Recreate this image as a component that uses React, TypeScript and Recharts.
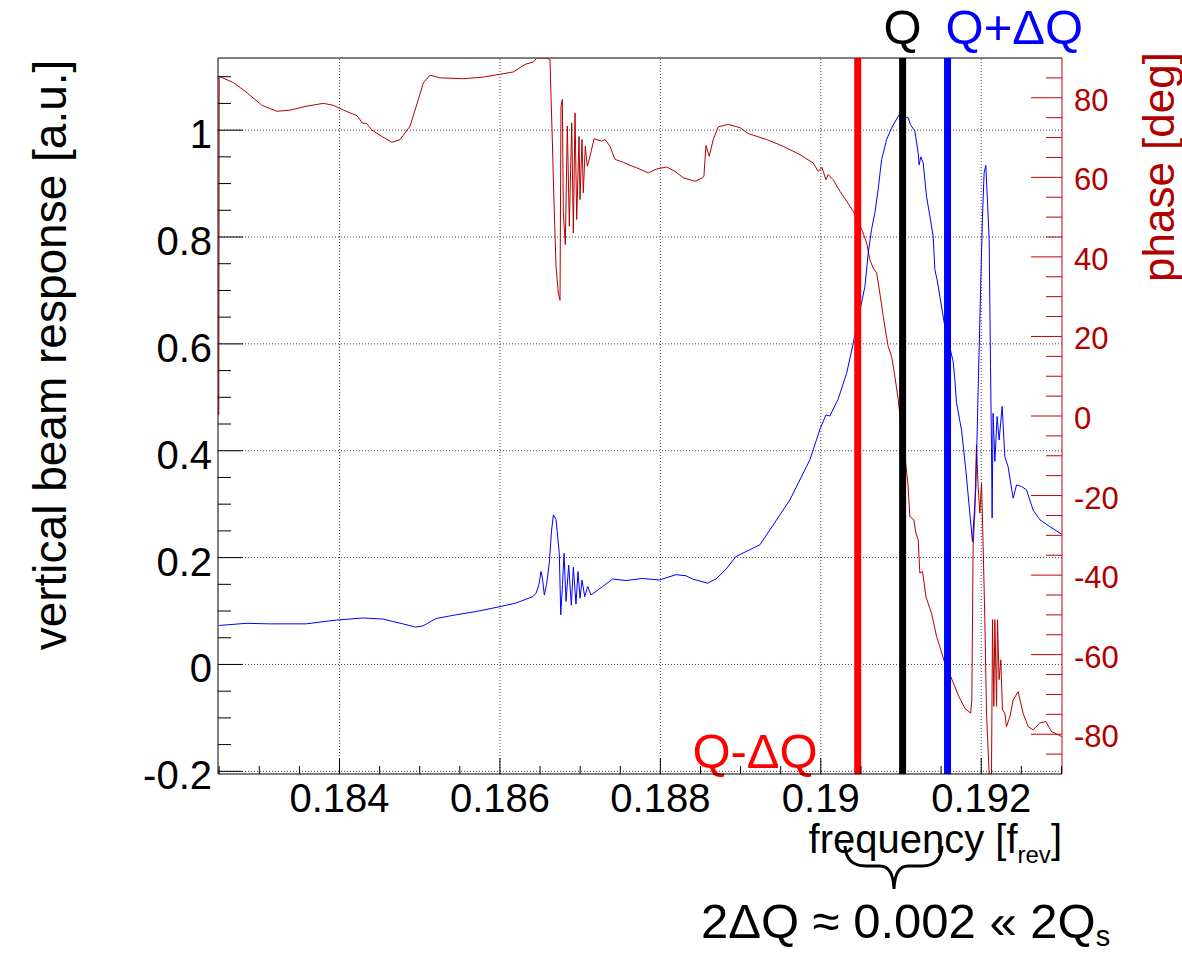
import React from 'react';
import { LineChart, Line, XAxis, YAxis, ReferenceLine } from 'recharts';

const FONT = '"Liberation Sans", Arial, Helvetica, sans-serif';

// ---- axis ranges ----
const X_MIN = 0.182485;
const X_MAX = 0.193007;
const AMP_MIN = -0.205;
const AMP_MAX = 1.135;
const PHASE_MIN = -90;
const PHASE_MAX = 90;

// ---- tune markers ----
const Q_MINUS = 0.19046;
const Q_CENTER = 0.19102;
const Q_PLUS = 0.19158;

// ---- ticks ----
const X_TICKS = [0.1825, 0.183, 0.1835, 0.184, 0.1845, 0.185, 0.1855, 0.186, 0.1865, 0.187, 0.1875, 0.188, 0.1885, 0.189, 0.1895, 0.19, 0.1905, 0.191, 0.1915, 0.192, 0.1925, 0.193];
const X_LABEL_VALUES = [0.184, 0.186, 0.188, 0.19, 0.192];
const X_LABELS = ['0.184', '0.186', '0.188', '0.19', '0.192'];

const AMP_TICKS = [-0.2, -0.15, -0.1, -0.05, 0, 0.05, 0.1, 0.15, 0.2, 0.25, 0.3, 0.35, 0.4, 0.45, 0.5, 0.55, 0.6, 0.65, 0.7, 0.75, 0.8, 0.85, 0.9, 0.95, 1, 1.05, 1.1];
const AMP_LABEL_VALUES = [-0.2, 0, 0.2, 0.4, 0.6, 0.8, 1];
const AMP_LABELS = ['-0.2', '0', '0.2', '0.4', '0.6', '0.8', '1'];

const PHASE_TICKS = [-85, -80, -75, -70, -65, -60, -55, -50, -45, -40, -35, -30, -25, -20, -15, -10, -5, 0, 5, 10, 15, 20, 25, 30, 35, 40, 45, 50, 55, 60, 65, 70, 75, 80, 85];
const PHASE_LABEL_VALUES = [-80, -60, -40, -20, 0, 20, 40, 60, 80];
const PHASE_LABELS = ['-80', '-60', '-40', '-20', '0', '20', '40', '60', '80'];

// ---- amplitude (blue) ----
const AMP_F = [
  0.18250, 0.182836, 0.183126, 0.183584, 0.183958, 0.184290, 0.184540, 0.184789, 0.184946, 0.185038,
  0.185204, 0.185453, 0.185702, 0.185993, 0.186201, 0.186409, 0.186450, 0.186487, 0.186512, 0.186531,
  0.186553, 0.186581, 0.186616, 0.186643, 0.186666, 0.186699, 0.186740, 0.186758, 0.186780, 0.186799,
  0.186824, 0.186857, 0.186890, 0.186915, 0.186948, 0.186973, 0.186998, 0.187023, 0.187057, 0.187094,
  0.187135, 0.187281, 0.187406, 0.187571, 0.187779, 0.187986, 0.188194, 0.188319, 0.188402, 0.188589,
  0.188693, 0.188817, 0.188942, 0.189241, 0.189615, 0.189864, 0.189989, 0.190064, 0.190113, 0.190217,
  0.190322, 0.190404, 0.190516, 0.190550, 0.190591, 0.190633, 0.190674, 0.190715, 0.190758, 0.190820,
  0.190882, 0.190977, 0.191089, 0.191119, 0.191173, 0.191214, 0.191226, 0.191247, 0.191276, 0.191318,
  0.191360, 0.191401, 0.191422, 0.191450, 0.191484, 0.191546, 0.191650, 0.191671, 0.191692, 0.191754,
  0.191808, 0.191858, 0.191891, 0.191908, 0.191933, 0.191961, 0.191991, 0.192016, 0.192036, 0.192057,
  0.192079, 0.192099, 0.192116, 0.192128, 0.192136, 0.192148, 0.192170, 0.192198, 0.192223, 0.192261,
  0.192294, 0.192335, 0.192398, 0.192440, 0.192502, 0.192564, 0.192647, 0.192730, 0.192855, 0.193000,
];
const AMP_V = [
  0.073, 0.077, 0.076, 0.076, 0.083, 0.087, 0.085, 0.076, 0.070, 0.072,
  0.086, 0.093, 0.099, 0.108, 0.115, 0.127, 0.133, 0.150, 0.174, 0.160,
  0.130, 0.150, 0.190, 0.250, 0.280, 0.271, 0.208, 0.093, 0.150, 0.208,
  0.118, 0.186, 0.111, 0.182, 0.113, 0.174, 0.124, 0.158, 0.127, 0.146,
  0.130, 0.146, 0.160, 0.157, 0.161, 0.158, 0.168, 0.166, 0.160, 0.152,
  0.160, 0.178, 0.202, 0.224, 0.308, 0.383, 0.440, 0.467, 0.465, 0.497,
  0.545, 0.601, 0.683, 0.707, 0.770, 0.814, 0.845, 0.889, 0.945, 0.982,
  1.004, 1.029, 1.023, 1.010, 0.998, 0.957, 0.935, 0.950, 0.939, 0.876,
  0.839, 0.801, 0.739, 0.720, 0.689, 0.633, 0.567, 0.533, 0.490, 0.439,
  0.364, 0.283, 0.230, 0.271, 0.330, 0.510, 0.695, 0.839, 0.920, 0.934,
  0.864, 0.795, 0.558, 0.408, 0.274, 0.470, 0.380, 0.464, 0.420, 0.483,
  0.389, 0.370, 0.311, 0.336, 0.333, 0.327, 0.289, 0.271, 0.258, 0.244,
];

// ---- phase (dark red) ----
const PHASE_F = [
  0.182495, 0.18250, 0.182678, 0.182845, 0.183032, 0.183219, 0.183384, 0.183593, 0.183799, 0.183924,
  0.184049, 0.184216, 0.184257, 0.184278, 0.184340, 0.184402, 0.184527, 0.184652, 0.184755, 0.184880,
  0.184983, 0.185046, 0.185129, 0.185254, 0.185544, 0.185793, 0.186001, 0.186167, 0.186313, 0.186416,
  0.186459, 0.186583, 0.186624, 0.186637, 0.186653, 0.186666, 0.186678, 0.186699, 0.186728, 0.186749,
  0.186761, 0.186778, 0.186790, 0.186815, 0.186840, 0.186865, 0.186895, 0.186915, 0.186936, 0.186957,
  0.186986, 0.186998, 0.187023, 0.187039, 0.187064, 0.187089, 0.187123, 0.187173, 0.187269, 0.187310,
  0.187372, 0.187434, 0.187538, 0.187621, 0.187705, 0.187849, 0.187954, 0.188079, 0.188182, 0.188285,
  0.188431, 0.188527, 0.188543, 0.188568, 0.188609, 0.188659, 0.188722, 0.188846, 0.188992, 0.189095,
  0.189325, 0.189532, 0.189740, 0.189905, 0.189968, 0.190014, 0.190064, 0.190092, 0.190155, 0.190238,
  0.190322, 0.190404, 0.190521, 0.190571, 0.190612, 0.190653, 0.190696, 0.190736, 0.190778, 0.190811,
  0.190840, 0.190882, 0.190911, 0.190964, 0.190998, 0.191048, 0.191089, 0.191110, 0.191160, 0.191185,
  0.191214, 0.191235, 0.191269, 0.191310, 0.191381, 0.191443, 0.191484, 0.191546, 0.191609, 0.191671,
  0.191712, 0.191796, 0.191867, 0.191883, 0.191899, 0.191920, 0.191933, 0.191941, 0.191961, 0.191983,
  0.192004, 0.192024, 0.192045, 0.192066, 0.192099, 0.192128, 0.192141, 0.192157, 0.192170, 0.192191,
  0.192203, 0.192223, 0.192244, 0.192265, 0.192294, 0.192315, 0.192357, 0.192398, 0.192460, 0.192522,
  0.192585, 0.192647, 0.192730, 0.192805, 0.192876, 0.193000,
];
const PHASE_V = [
  0.3, 85.4, 83.8, 81.3, 78.1, 76.6, 76.9, 77.9, 78.6, 78.1,
  76.9, 75.5, 74.5, 73.7, 73.5, 71.9, 70.3, 68.8, 69.5, 72.9,
  79.6, 83.8, 85.7, 85.0, 84.8, 85.2, 85.9, 86.5, 88.4, 89.0,
  90, 90, 89.6, 80, 69.5, 59.4, 51, 37.6, 30.9, 29.1,
  77.9, 79.6, 51.1, 43.1, 72.9, 47.7, 73.7, 46, 76.2, 49.4,
  70.3, 54.4, 69.5, 56.1, 67.8, 62.8, 65.3, 69.7, 69.1, 69.5,
  67.8, 64.5, 63.8, 63.0, 62.4, 61.1, 62.1, 62.6, 61.5, 59.9,
  59.0, 59.9, 60.3, 68, 65.3, 69.5, 72.7, 73.3, 72.5, 71.0,
  69.5, 67.8, 65.7, 63.6, 61.5, 62.5, 59.4, 60.7, 59.4, 56.5,
  54, 51.5, 46.4, 43.5, 39.3, 37.2, 36, 30.9, 25.1, 20.9,
  17.5, 15, 11.6, 4.3, -2, -10, -17.7, -25.3, -26.1, -29.4,
  -31.1, -39.5, -39.1, -45.4, -49.6, -55.4, -58, -62.1, -65, -68,
  -70.1, -73.5, -74.7, -71.4, -32.8, -24.4, -12.7, -7.2, -17.7, -24.4,
  -16.9, -32.8, -51.2, -74.7, -90, -90, -51.2, -73, -51.2, -73,
  -51.2, -66.3, -61.3, -73.9, -74.7, -78.1, -75.6, -71.4, -69.3, -74.7,
  -78.1, -78.9, -77.2, -76.8, -79.3, -80.6,
];

const ampData = AMP_F.map((f, i) => ({ f, a: AMP_V[i] }));
const phaseData = PHASE_F.map((f, i) => ({ f, p: PHASE_V[i] }));

const findMajor = (list: number[], v: number) => list.findIndex((m) => Math.abs(m - v) < 1e-9);

const XTick = (p: any) => {
  const i = findMajor(X_LABEL_VALUES, p.payload.value);
  return (
    <g>
      <line x1={p.x} x2={p.x} y1={p.y} y2={p.y - (i >= 0 ? 16 : 8)} stroke="#000" strokeWidth={1} />
      {i >= 0 && (
        <text x={p.x} y={p.y + 38} textAnchor="middle" fontSize={40} fontFamily={FONT} fill="#000">
          {X_LABELS[i]}
        </text>
      )}
    </g>
  );
};

const AmpTick = (p: any) => {
  const i = findMajor(AMP_LABEL_VALUES, p.payload.value);
  return (
    <g>
      <line x1={p.x} x2={p.x + (i >= 0 ? 25 : 13)} y1={p.y} y2={p.y} stroke="#000" strokeWidth={1} />
      {i >= 0 && (
        <text x={p.x - 6} y={p.y + 18} textAnchor="end" fontSize={40} fontFamily={FONT} fill="#000">
          {AMP_LABELS[i]}
        </text>
      )}
    </g>
  );
};

const PhaseTick = (p: any) => {
  const i = findMajor(PHASE_LABEL_VALUES, p.payload.value);
  return (
    <g>
      <line x1={p.x} x2={p.x - (i >= 0 ? 31 : 16)} y1={p.y} y2={p.y} stroke="#c00000" strokeWidth={1} />
      {i >= 0 && (
        <text x={p.x + 12} y={p.y + 13} textAnchor="start" fontSize={31} fontFamily={FONT} fill="#b00000">
          {PHASE_LABELS[i]}
        </text>
      )}
    </g>
  );
};

const markerLabel = (text: string, color: string, mode: 'topMiddle' | 'topStart' | 'bottomEnd') => (props: any) => {
  const vb = props && props.viewBox;
  if (!vb) return null;
  let x = vb.x;
  let y = vb.y - 14;
  let anchor: 'start' | 'middle' | 'end' = 'middle';
  if (mode === 'topStart') {
    anchor = 'start';
    x = vb.x - 2;
  } else if (mode === 'bottomEnd') {
    anchor = 'end';
    x = vb.x - 40;
    y = vb.y + vb.height - 6;
  }
  return (
    <text x={x} y={y} textAnchor={anchor} fill={color} fontSize={49} fontFamily={FONT}>
      {text}
    </text>
  );
};

export default function App() {
  return (
    <div style={{ position: 'absolute', left: 0, top: 0, width: 1182, height: 954, background: '#fff' }}>
      <LineChart width={1182} height={954} margin={{ top: 58, right: 60, bottom: 120, left: 158 }}>
        <XAxis
          type="number"
          dataKey="f"
          domain={[X_MIN, X_MAX]}
          allowDataOverflow
          ticks={X_TICKS}
          interval={0}
          tickSize={0}
          tickMargin={0}
          tickLine={false}
          axisLine={{ stroke: '#000' }}
          tick={XTick}
          height={60}
        />
        <YAxis
          yAxisId="amp"
          type="number"
          domain={[AMP_MIN, AMP_MAX]}
          allowDataOverflow
          ticks={AMP_TICKS}
          interval={0}
          tickSize={0}
          tickMargin={0}
          tickLine={false}
          axisLine={{ stroke: '#000' }}
          tick={AmpTick}
          width={60}
        />
        <YAxis
          yAxisId="phase"
          orientation="right"
          type="number"
          domain={[PHASE_MIN, PHASE_MAX]}
          allowDataOverflow
          ticks={PHASE_TICKS}
          interval={0}
          tickSize={0}
          tickMargin={0}
          tickLine={false}
          axisLine={{ stroke: '#c00000' }}
          tick={PhaseTick}
          width={60}
        />
        {X_LABEL_VALUES.map((v) => (
          <ReferenceLine key={'gx' + v} x={v} yAxisId="amp" stroke="#444" strokeDasharray="1 2" strokeWidth={1} />
        ))}
        {AMP_LABEL_VALUES.map((v) => (
          <ReferenceLine key={'gy' + v} y={v} yAxisId="amp" stroke="#444" strokeDasharray="1 2" strokeWidth={1} />
        ))}
        <ReferenceLine y={AMP_MAX} yAxisId="amp" stroke="#000" strokeWidth={1} />
        <Line
          data={phaseData}
          dataKey="p"
          yAxisId="phase"
          stroke="#b40000"
          strokeWidth={1}
          dot={false}
          activeDot={false}
          isAnimationActive={false}
          type="linear"
        />
        <Line
          data={ampData}
          dataKey="a"
          yAxisId="amp"
          stroke="#0000ff"
          strokeWidth={1}
          dot={false}
          activeDot={false}
          isAnimationActive={false}
          type="linear"
        />
        <ReferenceLine x={Q_MINUS} yAxisId="amp" stroke="#ff0000" strokeWidth={7} label={markerLabel('Q-ΔQ', '#ff0000', 'bottomEnd')} />
        <ReferenceLine x={Q_CENTER} yAxisId="amp" stroke="#000000" strokeWidth={7} label={markerLabel('Q', '#000000', 'topMiddle')} />
        <ReferenceLine x={Q_PLUS} yAxisId="amp" stroke="#0000ff" strokeWidth={7} label={markerLabel('Q+ΔQ', '#0000ff', 'topStart')} />
      </LineChart>
      <svg
        width={1182}
        height={954}
        style={{ position: 'absolute', left: 0, top: 0, pointerEvents: 'none' }}
      >
        <text
          transform="translate(50,355) rotate(-90)"
          textAnchor="middle"
          dominantBaseline="central"
          fontSize={46}
          fontFamily={FONT}
          fill="#000"
        >
          vertical beam response [a.u.]
        </text>
        <text
          transform="translate(1158,167) rotate(-90)"
          textAnchor="middle"
          dominantBaseline="central"
          fontSize={44}
          fontFamily={FONT}
          fill="#b00000"
        >
          phase [deg]
        </text>
        <text x={1062} y={853} textAnchor="end" fontSize={40} fontFamily={FONT} fill="#000">
          frequency [f
          <tspan fontSize={24} dy={10}>rev</tspan>
          <tspan dy={-10}>]</tspan>
        </text>
        <path
          d="M 845 846 Q 846 866 866 866 L 880 866 Q 893 866 894 889 Q 895 866 908 866 L 922 866 Q 941 866 942 846"
          fill="none"
          stroke="#000"
          strokeWidth={3}
        />
        <text x={701} y={938} fontSize={49} fontFamily={FONT} fill="#000">
          2ΔQ ≈ 0.002 « 2Q
          <tspan fontSize={29} dy={8}>s</tspan>
        </text>
      </svg>
    </div>
  );
}
